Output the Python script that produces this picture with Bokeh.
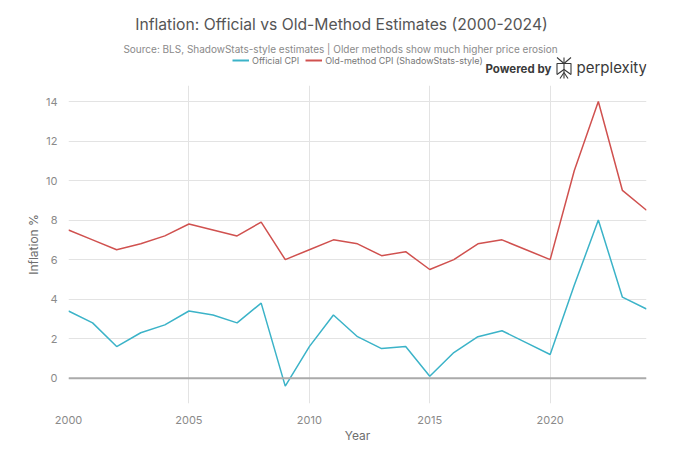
from bokeh.plotting import figure
from bokeh.layouts import column
from bokeh.models import Range1d, Legend, LegendItem, Span, FixedTicker
from bokeh.core.properties import value
from bokeh.embed import file_html
from bokeh.resources import INLINE

years = list(range(2000, 2025))
official_cpi = [3.4, 2.8, 1.6, 2.3, 2.7, 3.4, 3.2, 2.8, 3.8, -0.4, 1.6, 3.2, 2.1,
                1.5, 1.6, 0.1, 1.3, 2.1, 2.4, 1.8, 1.2, 4.7, 8.0, 4.1, 3.5]
old_method_cpi = [7.5, 7.0, 6.5, 6.8, 7.2, 7.8, 7.5, 7.2, 7.9, 6.0, 6.5, 7.0, 6.8,
                  6.2, 6.4, 5.5, 6.0, 6.8, 7.0, 6.5, 6.0, 10.5, 14.0, 9.5, 8.5]
x_ticks = [2000, 2005, 2010, 2015, 2020]
y_ticks = [0, 2, 4, 6, 8, 10, 12, 14]

title_text = "Inflation: Official vs Old-Method Estimates (2000-2024)"
subtitle_text = "Source: BLS, ShadowStats-style estimates | Older methods show much higher price erosion"
series_names = ["Official CPI", "Old-method CPI (ShadowStats-style)"]

FONT = "Inter"
BLUE = "#3bb3c8"
RED = "#d0514f"

W = 680
HH = 85          # header height
MH = 368         # main figure height
BL, BR, BB = 68, 34, 50

# ---------------- header (title, subtitle, legend, logo) ----------------
# the header's frame is aligned with the chart's frame (page x 68..646)
hd = figure(width=W, height=HH, output_backend="svg", toolbar_location=None,
            x_range=Range1d(BL, W - BR), y_range=Range1d(HH, 0),
            x_axis_type=None, y_axis_type=None, min_border=0,
            outline_line_color=None)
hd.grid.visible = False
hd.title.visible = False

def htext(x, y, txt, size, color, align="left", style="normal"):
    hd.text(x=[x], y=[y], text=[txt], text_font=value(FONT),
            text_font_size=size, text_color=color, text_align=align,
            text_baseline="middle", text_font_style=style)

htext(341, 24, title_text, "15.7px", "#555555", "center")
htext(340, 48, subtitle_text, "10px", "#8a8a8a", "center")
htext(485, 68, "Powered by", "11.5px", "#3a3a3a", "left", "bold")
htext(576, 67, "perplexity", "15px", "#3a3a3a", "left")

# perplexity logo (decoration)
cx, x0, x1 = 563.5, 556.5, 570.5
hd.multi_line(xs=[[cx, cx], [x0, x1], [x0, cx, x1], [x0, x0, cx, x1, x1],
                  [x0, cx, x1], [cx - 4, cx, cx + 4]],
              ys=[[57, 78], [63, 63], [57, 63, 57], [74, 63, 63, 63, 74],
                  [74, 69, 74], [78, 72, 78]],
              line_color="#3a3a3a", line_width=1.1)

# legend renderers live outside the header's visible range
h1 = hd.line(years, official_cpi, line_color=BLUE, line_width=2)
h2 = hd.line(years, old_method_cpi, line_color=RED, line_width=2)
legend = Legend(items=[LegendItem(label=series_names[0], renderers=[h1]),
                       LegendItem(label=series_names[1], renderers=[h2])],
                orientation="horizontal", location=(232 - BL, HH - 66),
                background_fill_alpha=0, border_line_color=None,
                label_text_font=FONT, label_text_font_size="9px",
                label_text_color="#777777", glyph_width=17, glyph_height=12,
                label_height=12, label_standoff=3, spacing=6, padding=0, margin=0)
hd.add_layout(legend, "center")

# ---------------- main chart ----------------
p = figure(width=W, height=MH, output_backend="svg", toolbar_location=None,
           x_range=Range1d(2000, 2024), y_range=Range1d(-1.28, 14.81),
           min_border_left=BL, min_border_right=BR, min_border_top=0,
           min_border_bottom=BB, outline_line_color=None)
p.title.visible = False

p.line(years, official_cpi, line_color=BLUE, line_width=1.5)
p.line(years, old_method_cpi, line_color=RED, line_width=1.5)

p.add_layout(Span(location=0, dimension="width", line_color="#aaaaaa", line_width=2))

for ax in (p.xaxis[0], p.yaxis[0]):
    ax.axis_line_color = None
    ax.major_tick_line_color = None
    ax.minor_tick_line_color = None
    ax.major_label_text_font = FONT
    ax.major_label_text_font_size = "11px"
    ax.major_label_text_color = "#8a8a8a"
    ax.axis_label_text_font = FONT
    ax.axis_label_text_font_size = "12px"
    ax.axis_label_text_font_style = "normal"
    ax.axis_label_text_color = "#6e6e6e"

p.xaxis.ticker = FixedTicker(ticks=x_ticks)
p.yaxis.ticker = FixedTicker(ticks=y_ticks)
p.xaxis.axis_label = "Year"
p.yaxis.axis_label = "Inflation %"
p.xaxis.major_label_standoff = 6
p.xaxis.axis_label_standoff = 1
p.yaxis.major_label_standoff = 5
p.yaxis.axis_label_standoff = 2

p.xgrid.grid_line_color = "#e3e3e3"
p.ygrid.grid_line_color = "#e3e3e3"
p.xgrid.ticker = FixedTicker(ticks=x_ticks)
p.ygrid.ticker = FixedTicker(ticks=y_ticks)

layout = column(hd, p, spacing=0)

out = open("out.html", "w")
out.write(file_html(layout, INLINE))
out.close()
